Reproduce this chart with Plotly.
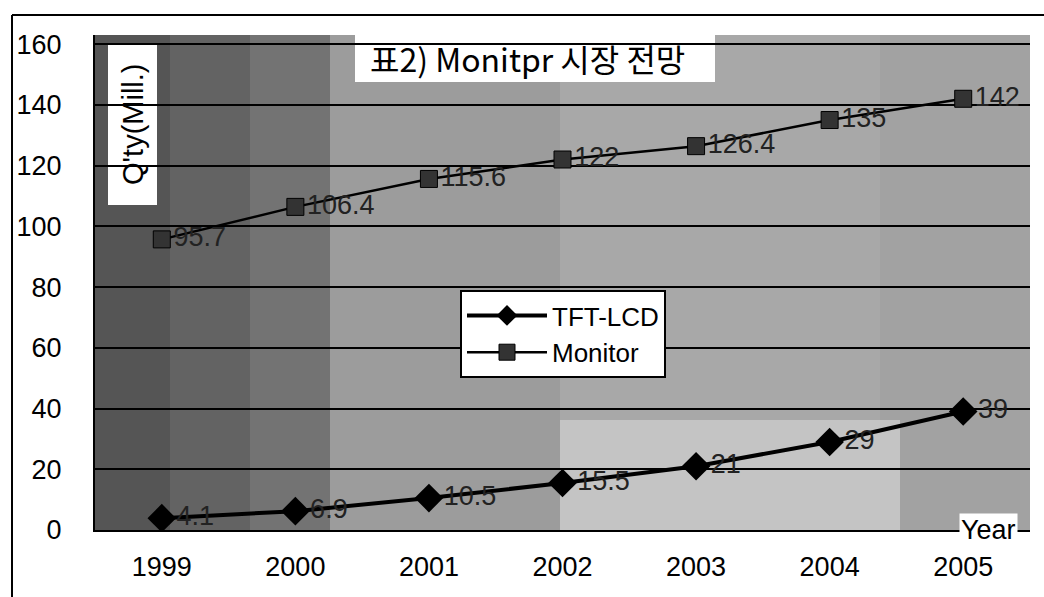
import plotly.graph_objects as go

years = ["1999", "2000", "2001", "2002", "2003", "2004", "2005"]
tft_lcd = [3.9, 6.2, 10.5, 15.5, 21, 29, 39]
tft_labels = ["4.1", "6.9", "10.5", "15.5", "21", "29", "39"]
monitor = [95.7, 106.4, 115.6, 122, 126.4, 135, 142]
monitor_labels = ["95.7", "106.4", "115.6", "122", "126.4", "135", "142"]
y_ticks = [0, 20, 40, 60, 80, 100, 120, 140, 160]

FONT = "Liberation Sans, Noto Sans CJK KR, sans-serif"
L, R, T, B = 95, 14, 35, 67
W, H = 1044, 597
PW, PH = W - L - R, H - T - B


def px(x):
    return (x - L) / PW


def py(y):
    return (H - B - y) / PH


fig = go.Figure()
fig.add_trace(go.Scatter(
    x=years, y=tft_lcd, name="TFT-LCD", mode="lines+markers+text",
    line=dict(color="black", width=4),
    marker=dict(symbol="diamond", size=22, color="black"),
    text=tft_labels, textposition="middle right",
    textfont=dict(size=27, color="#222", family=FONT),
))
fig.add_trace(go.Scatter(
    x=years, y=monitor, name="Monitor", mode="lines+markers+text",
    line=dict(color="black", width=2.5),
    marker=dict(symbol="square", size=17, color="#333", line=dict(color="black", width=1)),
    text=monitor_labels, textposition="middle right",
    textfont=dict(size=27, color="#222", family=FONT),
))

shapes = []
bands = [(L, 170, "#555"), (170, 250, "#636363"), (250, 330, "#737373"),
         (330, 560, "#9c9c9c"), (560, 880, "#a8a8a8"), (880, W - R, "#a2a2a2")]
for x0, x1, c in bands:
    shapes.append(dict(type="rect", xref="paper", yref="paper", x0=px(x0), x1=px(x1),
                       y0=0, y1=1, fillcolor=c, line=dict(width=0), layer="below"))
# lighter patch bottom-centre
shapes.append(dict(type="rect", xref="paper", yref="paper", x0=px(560), x1=px(900),
                   y0=0, y1=py(420), fillcolor="#c4c4c4", line=dict(width=0), layer="below"))
# outer frame lines
shapes.append(dict(type="line", xref="paper", yref="paper", x0=px(12), x1=px(12),
                   y0=py(15), y1=py(597), line=dict(color="black", width=2)))
shapes.append(dict(type="line", xref="paper", yref="paper", x0=px(12), x1=px(W),
                   y0=py(15), y1=py(15), line=dict(color="black", width=2)))
# title white box
shapes.append(dict(type="rect", xref="paper", yref="paper", x0=px(355), x1=px(715),
                   y0=py(82), y1=1, fillcolor="white", line=dict(width=0), layer="below"))
# y-title white box
shapes.append(dict(type="rect", xref="paper", yref="paper", x0=px(108), x1=px(157),
                   y0=py(205), y1=py(43), fillcolor="white", line=dict(width=0), layer="below"))

fig.update_layout(
    width=W, height=H,
    margin=dict(l=L, r=R, t=T, b=B),
    paper_bgcolor="white", plot_bgcolor="rgba(0,0,0,0)",
    font=dict(family=FONT, size=22, color="black"),
    shapes=shapes,
    showlegend=True,
    legend=dict(x=px(460), y=py(290), xanchor="left", yanchor="top",
                bgcolor="white", bordercolor="black", borderwidth=2,
                font=dict(size=26, family=FONT), itemwidth=80,
                tracegroupgap=2),
    annotations=[
        dict(text="표2) Monitpr 시장 전망", xref="paper", yref="paper",
             x=px(368), y=py(58), xanchor="left", yanchor="middle", showarrow=False,
             font=dict(size=32, family="Noto Sans CJK KR, sans-serif")),
        dict(text="Q'ty(Mill.)", xref="paper", yref="paper", x=px(133), y=py(124),
             xanchor="center", yanchor="middle",
             textangle=-90, showarrow=False, font=dict(size=29, family=FONT)),
        dict(text="Year", xref="paper", yref="paper", x=px(988), y=py(530),
             xanchor="center", yanchor="middle",
             showarrow=False, bgcolor="white", font=dict(size=27, family=FONT)),
    ],
)
fig.update_xaxes(type="category", range=[-0.5, 6.5], showgrid=False,
                 showline=True, linecolor="black", linewidth=2, ticks="",
                 tickfont=dict(size=27), ticklabelstandoff=12)
fig.update_yaxes(range=[0, 163], tickvals=y_ticks, showgrid=True, gridcolor="black",
                 gridwidth=2, showline=True, linecolor="black", linewidth=2,
                 zeroline=False, tickfont=dict(size=27), ticks="", ticklabelstandoff=26)

fig.write_html("out.html")
